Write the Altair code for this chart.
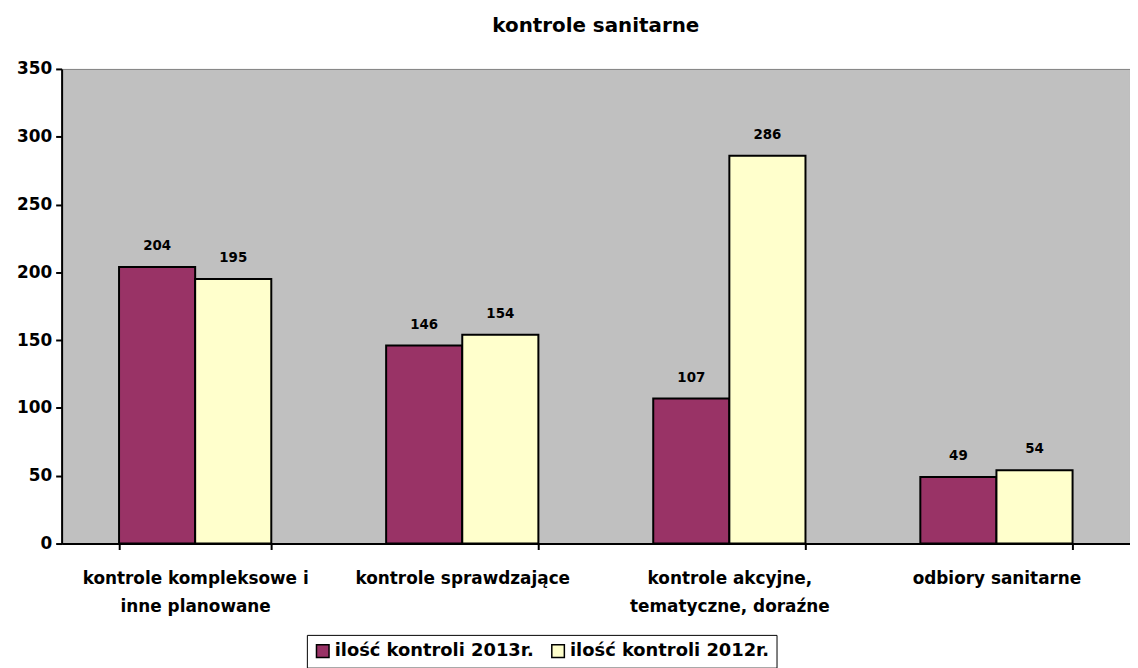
import altair as alt
import pandas as pd

categories = [
    "kontrole kompleksowe i\ninne planowane",
    "kontrole sprawdzające",
    "kontrole akcyjne,\ntematyczne, doraźne",
    "odbiory sanitarne",
]
series = ["ilość kontroli 2013r.", "ilość kontroli 2012r."]
values_2013 = [204, 146, 107, 49]
values_2012 = [195, 154, 286, 54]
colors = ["#993366", "#FFFFCC"]

rows = []
for c, a, b in zip(categories, values_2013, values_2012):
    rows.append({"cat": c, "series": series[0], "value": a})
    rows.append({"cat": c, "series": series[1], "value": b})
df = pd.DataFrame(rows)

FONT = "DejaVu Sans"

x = alt.X("cat:N", sort=categories, title=None,
          scale=alt.Scale(paddingInner=0.43, paddingOuter=0.215),
          axis=alt.Axis(labelAngle=0, labelFont=FONT, labelFontSize=17, labelFontWeight="bold",
                        labelColor="black", labelExpr="split(datum.label, '\\n')",
                        labelLineHeight=28, labelPadding=21, labelBaseline="top", labelLimit=0,
                        domainColor="black", domainWidth=2, tickColor="black", tickWidth=2,
                        tickSize=6, tickBand="extent"))
xoff = alt.XOffset("series:N", sort=series, scale=alt.Scale(paddingInner=0, paddingOuter=0))
y = alt.Y("value:Q", title=None,
          scale=alt.Scale(domain=[0, 350], nice=False),
          axis=alt.Axis(values=[0, 50, 100, 150, 200, 250, 300, 350], grid=False,
                        labelFont=FONT, labelFontSize=17, labelFontWeight="bold", labelColor="black",
                        domainColor="black", domainWidth=2, tickColor="black", tickWidth=2,
                        tickSize=6, labelPadding=4))

bars = alt.Chart(df).mark_bar(stroke="black", strokeWidth=2).encode(
    x=x, xOffset=xoff, y=y,
    color=alt.Color("series:N", sort=series,
                    scale=alt.Scale(domain=series, range=colors),
                    legend=alt.Legend(title=None, orient="none", direction="horizontal",
                                      legendX=247, legendY=570,
                                      labelFont=FONT, labelFontSize=18, labelFontWeight="bold",
                                      labelColor="black", symbolType="square", symbolSize=160,
                                      symbolStrokeColor="black", symbolStrokeWidth=1.5,
                                      strokeColor="black", padding=7, columnPadding=14,
                                      labelOffset=3, symbolOpacity=1, labelLimit=0)),
)

labels = alt.Chart(df).mark_text(dy=-21, font=FONT, fontSize=13.5, fontWeight="bold", color="black").encode(
    x=x, xOffset=xoff, y=y, text=alt.Text("value:Q"),
)

chart = alt.layer(bars, labels).properties(
    width=1076, height=478,
    background="white",
    padding={"left": 8, "top": 6, "right": 0, "bottom": 0},
    title=alt.TitleParams("kontrole sanitarne", font=FONT, fontSize=20, fontWeight="bold",
                          color="black", offset=24, anchor="middle"),
).configure_view(fill="#C0C0C0", stroke="#808080", strokeWidth=1)

chart.save("out.html", embed_options={"renderer": "svg", "actions": False})
